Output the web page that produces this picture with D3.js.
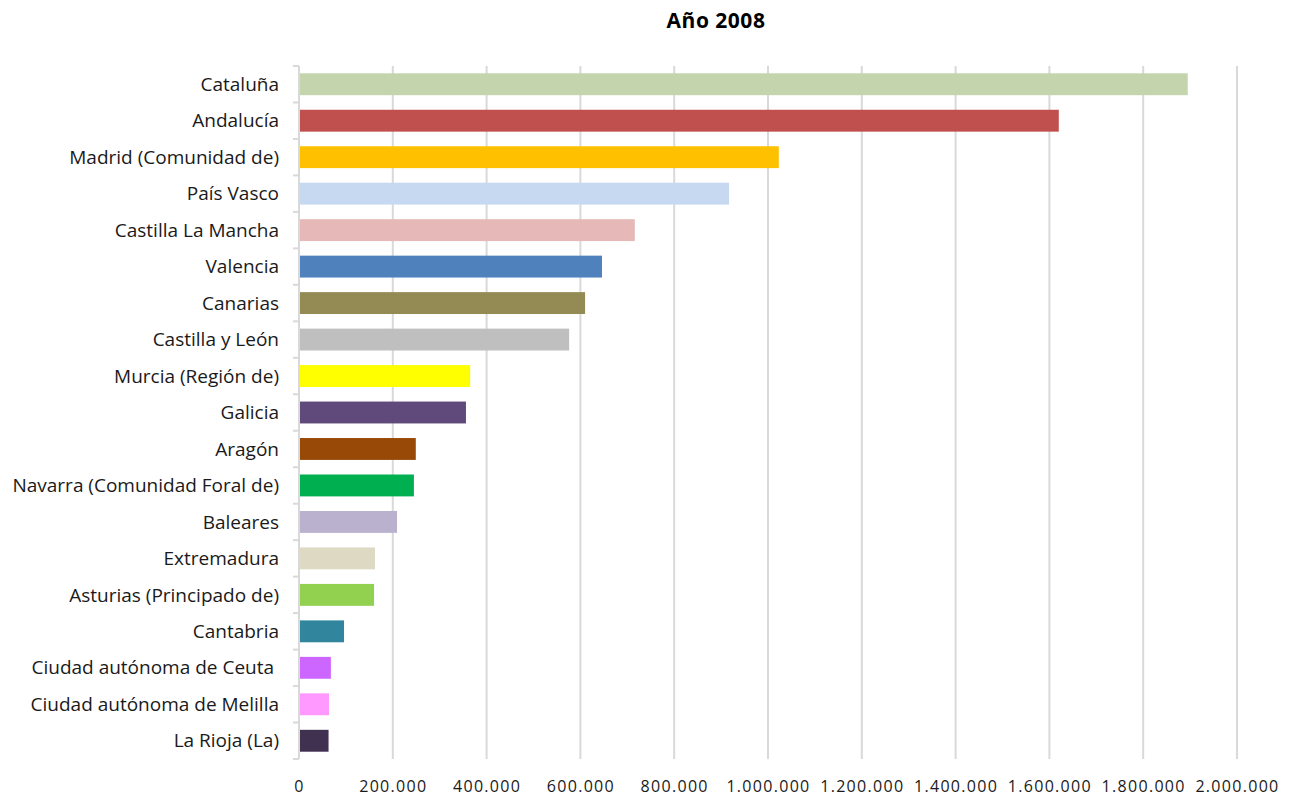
<!DOCTYPE html>
<html>
<head>
<meta charset="utf-8">
<script src="https://cdn.jsdelivr.net/npm/d3@7"></script>
<style>
  body { margin: 0; background: #fff; }
  text { font-family: "Open Sans", Lato, sans-serif; }
</style>
</head>
<body>
<div id="chart"></div>
<script>
// Comunidades (de arriba a abajo)
var comunidades = [
    "Cataluña", "Andalucía", "Madrid (Comunidad de)", "País Vasco", "Castilla La Mancha",
    "Valencia", "Canarias", "Castilla y León", "Murcia (Región de)", "Galicia", "Aragón",
    "Navarra (Comunidad Foral de)", "Baleares", "Extremadura", "Asturias (Principado de)",
    "Cantabria", "Ciudad autónoma de Ceuta ", "Ciudad autónoma de Melilla", "La Rioja (La)"
];

// Valores
var valores = [
    1895000, 1620000, 1023000, 917000, 716000,
    646000, 610000, 576000, 365000, 356000, 249000,
    245000, 209000, 162000, 160000,
    96000, 68000, 64000, 63000
];

var colores = [
    "#c4d5ad", "#c0504d", "#ffc000", "#c6d9f1", "#e6b9b8",
    "#4f81bd", "#948a54", "#bfbfbf", "#ffff00", "#604a7b", "#984807",
    "#00b050", "#b9b1cd", "#ddd9c3", "#92d050",
    "#31859c", "#cc66ff", "#ff99ff", "#403151"
];

var ticksX = [0, 200000, 400000, 600000, 800000, 1000000, 1200000, 1400000, 1600000, 1800000, 2000000];

var width = 1294;
var height = 801;
var margin = { top: 66, right: 57, bottom: 42, left: 299 };

var svg = d3.select("#chart")
    .append("svg")
    .attr("width", width)
    .attr("height", height);

var x = d3.scaleLinear()
    .domain([0, 2000000])
    .range([margin.left, width - margin.right]);

var y = d3.scaleBand()
    .domain(comunidades)
    .range([margin.top, height - margin.bottom])
    .paddingInner(0.4)
    .paddingOuter(0.2);

var formato = function(d) {
    return d3.format(",")(d).replace(/,/g, ".");
};

// Líneas de cuadrícula
svg.append("g")
    .selectAll("line")
    .data(ticksX.slice(1))
    .enter()
    .append("line")
    .attr("x1", function(d) { return x(d); })
    .attr("x2", function(d) { return x(d); })
    .attr("y1", margin.top)
    .attr("y2", height - margin.bottom)
    .attr("stroke", "#d9d9d9")
    .attr("stroke-width", 2);

// Barras
svg.append("g")
    .selectAll("rect")
    .data(comunidades)
    .enter()
    .append("rect")
    .attr("x", x(0) + 1)
    .attr("y", function(d) { return y(d); })
    .attr("width", function(d, i) { return x(valores[i]) - x(0) - 1; })
    .attr("height", y.bandwidth())
    .attr("fill", function(d, i) { return colores[i]; });

// Eje Y con marcas en los límites de las bandas
var ejeY = svg.append("g");
ejeY.append("line")
    .attr("x1", x(0)).attr("x2", x(0))
    .attr("y1", margin.top).attr("y2", height - margin.bottom)
    .attr("stroke", "#d9d9d9")
    .attr("stroke-width", 2);

var limites = comunidades.map(function(d) { return y(d) - y.step() * y.paddingInner() / 2; });
limites.push(height - margin.bottom);
ejeY.selectAll("line.marca")
    .data(limites)
    .enter()
    .append("line")
    .attr("class", "marca")
    .attr("x1", x(0) - 6).attr("x2", x(0))
    .attr("y1", function(d) { return d; })
    .attr("y2", function(d) { return d; })
    .attr("stroke", "#d9d9d9")
    .attr("stroke-width", 2);

ejeY.selectAll("text")
    .data(comunidades)
    .enter()
    .append("text")
    .attr("x", x(0) - 20)
    .attr("y", function(d) { return y(d) + y.bandwidth() / 2; })
    .attr("dy", "0.35em")
    .attr("text-anchor", "end")
    .style("white-space", "pre")
    .style("font-size", "19px")
    .style("fill", "#1a1a1a")
    .text(function(d) { return d; });

// Eje X
svg.append("g")
    .attr("transform", "translate(0," + (height - margin.bottom) + ")")
    .call(d3.axisBottom(x).tickValues(ticksX).tickFormat(formato).tickSize(0).tickPadding(22))
    .call(function(g) { g.select(".domain").remove(); })
    .selectAll("text")
    .style("font-family", "'Open Sans', Lato, sans-serif")
    .style("font-size", "16px")
    .style("letter-spacing", "1.3px")
    .style("fill", "#1a1a1a");

// Título
svg.append("text")
    .attr("x", 716)
    .attr("y", 28)
    .attr("text-anchor", "middle")
    .style("font-size", "21px")
    .style("font-weight", "bold")
    .style("letter-spacing", "0.5px")
    .text("Año 2008");
</script>
</body>
</html>
